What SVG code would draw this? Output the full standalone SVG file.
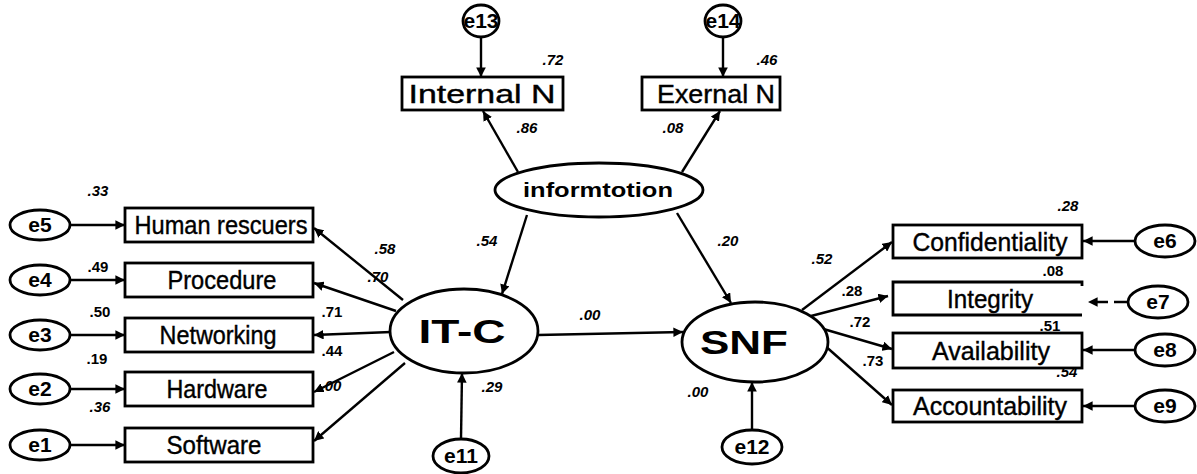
<svg xmlns="http://www.w3.org/2000/svg" width="1197" height="474" viewBox="0 0 1197 474">
<style>
.box{fill:#fff;stroke:#000;stroke-width:2.8}
.ell{fill:#fff;stroke:#000;stroke-width:2.8}
.lbl{font-family:"Liberation Sans",Arial,sans-serif;font-size:26px;fill:#000;text-anchor:middle;stroke:#000;stroke-width:0.4}
.err{font-family:"Liberation Sans",Arial,sans-serif;font-size:21px;font-weight:bold;fill:#000;text-anchor:middle}
.lat{font-family:"Liberation Sans",Arial,sans-serif;font-size:33px;font-weight:bold;fill:#000;text-anchor:middle}
.num{font-family:"Liberation Sans",Arial,sans-serif;font-size:15px;font-weight:bold;fill:#000;text-anchor:middle}
.it{font-style:italic}
.edge{stroke:#000;stroke-width:2.4;fill:none;marker-end:url(#ah)}
</style>
<defs>
<marker id="ah" viewBox="0 0 10 10" refX="10" refY="5" markerWidth="4" markerHeight="4" orient="auto" markerUnits="strokeWidth">
<path d="M0,0 L10,5 L0,10 z" fill="#000"/>
</marker>
</defs>
<rect width="1197" height="474" fill="#fff"/>

<g id="connectors">
<line class="edge" x1="481" y1="38" x2="481" y2="77"/>
<line class="edge" x1="723" y1="38" x2="723" y2="77"/>
<line class="edge" x1="518" y1="172" x2="483" y2="111"/>
<line class="edge" x1="682" y1="172" x2="720" y2="111"/>
<line class="edge" x1="527" y1="215" x2="502" y2="294"/>
<line class="edge" x1="677" y1="213" x2="731" y2="303"/>
<line class="edge" x1="538" y1="335" x2="683" y2="332"/>
<line class="edge" x1="461" y1="439" x2="462" y2="373"/>
<line class="edge" x1="752" y1="430" x2="752" y2="382"/>
<line class="edge" x1="70" y1="225" x2="125" y2="225"/>
<line class="edge" x1="70" y1="280" x2="125" y2="280"/>
<line class="edge" x1="70" y1="335" x2="125" y2="335"/>
<line class="edge" x1="70" y1="389" x2="125" y2="389"/>
<line class="edge" x1="70" y1="445" x2="125" y2="445"/>
<line class="edge" x1="403" y1="300" x2="314" y2="228"/>
<line class="edge" x1="396" y1="311" x2="314" y2="283"/>
<line class="edge" x1="391" y1="332" x2="314" y2="335"/>
<line class="edge" x1="394" y1="352" x2="314" y2="392"/>
<line class="edge" x1="405" y1="363" x2="314" y2="441"/>
<line class="edge" x1="802" y1="310" x2="892" y2="242"/>
<line class="edge" x1="811" y1="316" x2="888" y2="296"/>
<line class="edge" x1="820" y1="328" x2="892" y2="349"/>
<line class="edge" x1="823" y1="344" x2="892" y2="405"/>
<line class="edge" x1="1135" y1="241" x2="1083" y2="241"/>
<line class="edge" x1="1128" y1="302" x2="1088" y2="302" stroke-dasharray="14,6"/>
<line class="edge" x1="1135" y1="350" x2="1083" y2="350"/>
<line class="edge" x1="1135" y1="406" x2="1083" y2="406"/>
</g>

<g id="e13"><ellipse class="ell" cx="481" cy="21" rx="18" ry="16"/><text class="err" x="481" y="28">e13</text></g>
<g id="e14"><ellipse class="ell" cx="723" cy="21" rx="18" ry="16"/><text class="err" x="723" y="28">e14</text></g>
<g id="internalN"><rect class="box" x="402" y="77" width="161" height="33"/><text class="lbl" x="482" y="103" textLength="147" lengthAdjust="spacingAndGlyphs">Internal N</text></g>
<g id="exernalN"><rect class="box" x="642" y="77" width="138" height="33"/><text class="lbl" x="716" y="103" textLength="118" lengthAdjust="spacingAndGlyphs">Exernal N</text></g>
<g id="information"><ellipse class="ell" cx="599" cy="190" rx="104" ry="27"/><text class="err" x="598" y="197" textLength="150" lengthAdjust="spacingAndGlyphs">informtotion</text></g>
<g id="itc"><ellipse class="ell" cx="464" cy="331" rx="74" ry="42"/><text class="lat" x="462" y="343" textLength="87" lengthAdjust="spacingAndGlyphs">IT-C</text></g>
<g id="snf"><ellipse class="ell" cx="755" cy="342" rx="73" ry="40"/><text class="lat" x="744" y="354" textLength="88" lengthAdjust="spacingAndGlyphs">SNF</text></g>
<g id="e11"><ellipse class="ell" cx="461" cy="456" rx="28" ry="17"/><text class="err" x="461" y="463">e11</text></g>
<g id="e12"><ellipse class="ell" cx="752" cy="447" rx="30" ry="17"/><text class="err" x="752" y="454">e12</text></g>

<g id="e5"><ellipse class="ell" cx="40" cy="225" rx="30" ry="15"/><text class="err" x="40" y="232">e5</text></g>
<g id="e4"><ellipse class="ell" cx="40" cy="280" rx="30" ry="15"/><text class="err" x="40" y="287">e4</text></g>
<g id="e3"><ellipse class="ell" cx="40" cy="335" rx="30" ry="15"/><text class="err" x="40" y="342">e3</text></g>
<g id="e2"><ellipse class="ell" cx="40" cy="389" rx="30" ry="15"/><text class="err" x="40" y="396">e2</text></g>
<g id="e1"><ellipse class="ell" cx="40" cy="445" rx="30" ry="15"/><text class="err" x="40" y="452">e1</text></g>

<g id="human"><rect class="box" x="125" y="208" width="188" height="34"/><text class="lbl" x="221" y="234" textLength="173" lengthAdjust="spacingAndGlyphs">Human rescuers</text></g>
<g id="procedure"><rect class="box" x="125" y="263" width="188" height="34"/><text class="lbl" x="222" y="289" textLength="109" lengthAdjust="spacingAndGlyphs">Procedure</text></g>
<g id="networking"><rect class="box" x="125" y="318" width="188" height="34"/><text class="lbl" x="218" y="344" textLength="117" lengthAdjust="spacingAndGlyphs">Networking</text></g>
<g id="hardware"><rect class="box" x="125" y="372" width="188" height="34"/><text class="lbl" x="217" y="398" textLength="101" lengthAdjust="spacingAndGlyphs">Hardware</text></g>
<g id="software"><rect class="box" x="125" y="428" width="188" height="34"/><text class="lbl" x="214" y="454" textLength="95" lengthAdjust="spacingAndGlyphs">Software</text></g>

<g id="confidentiality"><rect class="box" x="893" y="225" width="189" height="33"/><text class="lbl" x="990" y="251" textLength="155" lengthAdjust="spacingAndGlyphs">Confidentiality</text></g>
<g id="integrity"><path class="box" d="M1082,286 L1082,282 L893,282 L893,315 L1082,315"/><text class="lbl" x="990" y="308" textLength="86" lengthAdjust="spacingAndGlyphs">Integrity</text></g>
<g id="availability"><rect class="box" x="893" y="333" width="189" height="35"/><text class="lbl" x="991" y="360" textLength="118" lengthAdjust="spacingAndGlyphs">Availability</text></g>
<g id="accountability"><rect class="box" x="893" y="390" width="189" height="32"/><text class="lbl" x="990" y="415" textLength="154" lengthAdjust="spacingAndGlyphs">Accountability</text></g>

<g id="e6"><ellipse class="ell" cx="1165" cy="241" rx="30" ry="16"/><text class="err" x="1165" y="248">e6</text></g>
<g id="e7"><ellipse class="ell" cx="1158" cy="302" rx="30" ry="16"/><text class="err" x="1158" y="309">e7</text></g>
<g id="e8"><ellipse class="ell" cx="1165" cy="350" rx="30" ry="16"/><text class="err" x="1165" y="357">e8</text></g>
<g id="e9"><ellipse class="ell" cx="1165" cy="406" rx="30" ry="16"/><text class="err" x="1165" y="413">e9</text></g>

<g id="labels">
<text class="num it" x="553" y="65">.72</text>
<text class="num it" x="767" y="65">.46</text>
<text class="num it" x="527" y="133">.86</text>
<text class="num it" x="673" y="133">.08</text>
<text class="num it" x="487" y="246">.54</text>
<text class="num it" x="728" y="246">.20</text>
<text class="num it" x="590" y="320">.00</text>
<text class="num it" x="492" y="392">.29</text>
<text class="num it" x="698" y="397">.00</text>
<text class="num it" x="98" y="196">.33</text>
<text class="num" x="98" y="272">.49</text>
<text class="num" x="100" y="317">.50</text>
<text class="num" x="97" y="364">.19</text>
<text class="num it" x="100" y="412">.36</text>
<text class="num it" x="385" y="254">.58</text>
<text class="num it" x="378" y="282">.70</text>
<text class="num" x="332" y="317">.71</text>
<text class="num" x="332" y="356">.44</text>
<text class="num it" x="331" y="391">.00</text>
<text class="num it" x="1068" y="211">.28</text>
<text class="num it" x="822" y="264">.52</text>
<text class="num" x="852" y="296">.28</text>
<text class="num" x="1053" y="276">.08</text>
<text class="num" x="860" y="327">.72</text>
<text class="num" x="1050" y="331">.51</text>
<text class="num" x="873" y="366">.73</text>
<text class="num it" x="1067" y="377">.54</text>
</g>
</svg>
